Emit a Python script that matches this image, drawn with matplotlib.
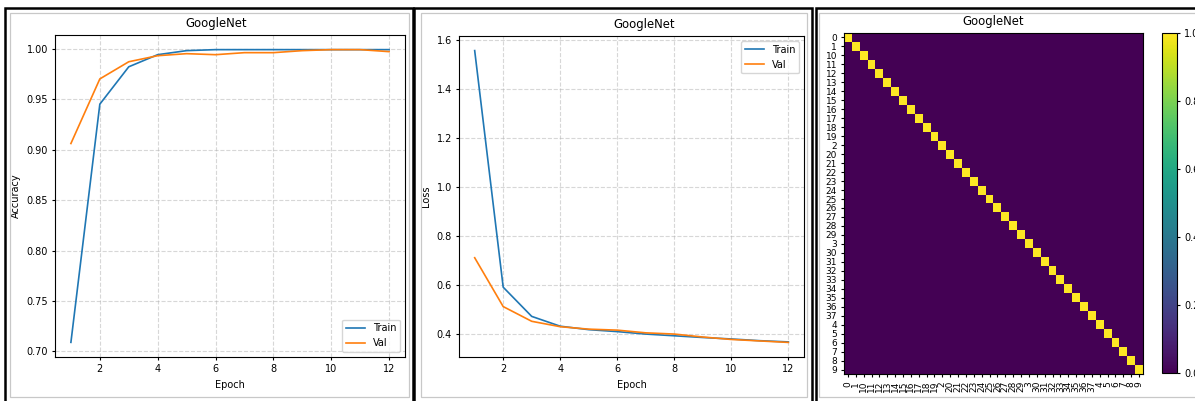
import numpy as np
import matplotlib
matplotlib.use("Agg")
import matplotlib.pyplot as plt
from matplotlib.patches import Rectangle

# training history
epochs = [1, 2, 3, 4, 5, 6, 7, 8, 9, 10, 11, 12]
train_acc = [0.709, 0.945, 0.982, 0.994, 0.998, 0.999, 0.999, 0.999, 0.999, 0.999, 0.999, 0.999]
val_acc = [0.906, 0.970, 0.987, 0.993, 0.995, 0.994, 0.996, 0.996, 0.998, 0.999, 0.999, 0.997]
train_loss = [1.555, 0.591, 0.472, 0.432, 0.418, 0.410, 0.400, 0.393, 0.386, 0.380, 0.373, 0.368]
val_loss = [0.711, 0.512, 0.452, 0.430, 0.420, 0.416, 0.405, 0.400, 0.388, 0.378, 0.372, 0.366]

# confusion matrix labels (string sorted class ids)
class_labels = ["0", "1", "10", "11", "12", "13", "14", "15", "16", "17", "18", "19",
                "2", "20", "21", "22", "23", "24", "25", "26", "27", "28", "29",
                "3", "30", "31", "32", "33", "34", "35", "36", "37",
                "4", "5", "6", "7", "8", "9"]
diag_values = [1.0, 1.0, 1.0, 1.0, 1.0, 1.0, 1.0, 1.0, 1.0, 1.0, 1.0, 1.0, 1.0,
               1.0, 1.0, 1.0, 1.0, 1.0, 1.0, 1.0, 1.0, 1.0, 1.0, 1.0, 1.0, 1.0,
               1.0, 1.0, 1.0, 1.0, 1.0, 1.0, 1.0, 1.0, 1.0, 1.0, 1.0, 1.0]
cbar_ticks = [0.0, 0.2, 0.4, 0.6, 0.8, 1.0]

plt.rcParams["font.size"] = 7
plt.rcParams["xtick.major.size"] = 2.5
plt.rcParams["ytick.major.size"] = 2.5
plt.rcParams["xtick.major.pad"] = 2.5
plt.rcParams["ytick.major.pad"] = 2.5
plt.rcParams["axes.linewidth"] = 0.8

W, H = 1195, 401
fig = plt.figure(figsize=(W / 100, H / 100), dpi=100)


def px_axes(x0, y0, x1, y1):
    # pixel box (top-left origin) -> figure axes
    return fig.add_axes([x0 / W, 1 - y1 / H, (x1 - x0) / W, (y1 - y0) / H])


def px_rect(x0, y0, x1, y1, color, lw):
    r = Rectangle((x0 / W, 1 - y1 / H), (x1 - x0) / W, (y1 - y0) / H,
                  transform=fig.transFigure, fill=False, edgecolor=color,
                  linewidth=lw, clip_on=False)
    fig.add_artist(r)


# panel frames
for x0, x1 in [(5, 413), (414, 812), (816, 1205)]:
    px_rect(x0, 8, x1, 410, "black", 1.8)
for x0, x1 in [(9.5, 409), (420.5, 807), (818.5, 1210)]:
    px_rect(x0, 12.5, x1, 397, "#c8c8c8", 0.9)

# accuracy
ax1 = px_axes(55, 35, 405, 357)
ax1.plot(epochs, train_acc, label="Train", linewidth=1.2)
ax1.plot(epochs, val_acc, label="Val", linewidth=1.2)
ax1.set_title("GoogleNet", x=0.46, fontsize=8.4)
ax1.set_xlabel("Epoch")
ax1.set_ylabel("Accuracy")
ax1.grid(True, linestyle="--", alpha=0.5)
ax1.legend(loc="lower right")

# loss
ax2 = px_axes(459, 36, 804, 357)
ax2.plot(epochs, train_loss, label="Train", linewidth=1.2)
ax2.plot(epochs, val_loss, label="Val", linewidth=1.2)
ax2.set_title("GoogleNet", x=0.538, fontsize=8.4)
ax2.set_xlabel("Epoch")
ax2.set_ylabel("Loss")
ax2.grid(True, linestyle="--", alpha=0.5)
ax2.legend(loc="upper right")

# confusion matrix
cm = np.diag(diag_values)
ax3 = px_axes(844, 33, 1143, 374)
im = ax3.imshow(cm, cmap="viridis", aspect="auto", vmin=0, vmax=1)
ax3.set_xticks(range(len(class_labels)))
ax3.set_yticks(range(len(class_labels)))
ax3.set_xticklabels(class_labels, rotation=90, fontsize=6.5)
ax3.set_yticklabels(class_labels, fontsize=6.5)
ax3.set_title("GoogleNet", fontsize=8.4)

cax = px_axes(1162, 33, 1177, 373)
cb = fig.colorbar(im, cax=cax, ticks=cbar_ticks)
cb.ax.tick_params(labelsize=7)

fig.savefig("out.png", dpi=100)
